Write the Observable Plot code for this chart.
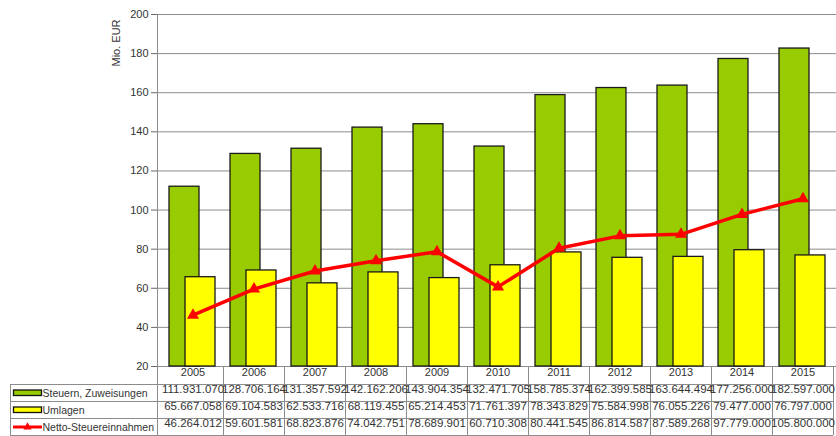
<!DOCTYPE html>
<html>
<head>
<meta charset="utf-8">
<script src="https://cdn.jsdelivr.net/npm/d3@7"></script>
<script src="https://cdn.jsdelivr.net/npm/@observablehq/plot@0.6"></script>
<style>
  html, body { margin: 0; padding: 0; background: #fff; overflow: hidden; }
  #chart { width: 836px; height: 436px; overflow: hidden; }
</style>
</head>
<body>
<div id="chart"></div>
<script>
const years = ["2005","2006","2007","2008","2009","2010","2011","2012","2013","2014","2015"];
const steuern = [111931070,128706164,131357592,142162206,143904354,132471705,158785374,162399585,163644494,177256000,182597000];
const umlagen = [65667058,69104583,62533716,68119455,65214453,71761397,78343829,75584998,76055226,79477000,76797000];
const netto = [46264012,59601581,68823876,74042751,78689901,60710308,80441545,86814587,87589268,97779000,105800000];
const seriesNames = ["Steuern, Zuweisungen", "Umlagen", "Netto-Steuereinnahmen"];
const seriesColors = ["#99cc00", "#ffff00", "#ff0000"];
const yTicks = [20, 40, 60, 80, 100, 120, 140, 160, 180, 200];
const yLabel = "Mio. EUR";

const de = d3.formatLocale({decimal: ",", thousands: ".", grouping: [3], currency: ["", " €"]});
const fmt = de.format(",d");
const mio = v => v / 1e6;

const FONT = "'Liberation Sans', Arial, sans-serif";
const gridColor = "#8c8c8c";
const textColor = "#333";

// table geometry (layout only)
const tableTop = 384, rowH = 17, tableLeft = 10;

function tableGrid(index, scales, values, dimensions) {
  const x = scales.x;
  const bw = x.bandwidth();
  const bottom = dimensions.height - dimensions.marginBottom; // 366
  const right = x(years[years.length - 1]) + bw;
  const tableBottom = tableTop + rowH * 3;
  const g = d3.create("svg:g").attr("fill", "none").attr("stroke", gridColor).attr("stroke-width", 1);
  g.append("line").attr("x1", dimensions.marginLeft + 0.5).attr("x2", dimensions.marginLeft + 0.5)
    .attr("y1", dimensions.marginTop).attr("y2", tableBottom);
  years.forEach(yr => {
    const xr = x(yr) + bw;
    g.append("line").attr("x1", Math.round(xr) + 0.5).attr("x2", Math.round(xr) + 0.5)
      .attr("y1", bottom).attr("y2", tableBottom);
  });
  for (let i = 0; i <= 3; i++) {
    const yy = tableTop + rowH * i + 0.5;
    g.append("line").attr("x1", tableLeft).attr("x2", right).attr("y1", yy).attr("y2", yy);
  }
  g.append("line").attr("x1", tableLeft + 0.5).attr("x2", tableLeft + 0.5).attr("y1", tableTop).attr("y2", tableBottom);

  const lg = d3.create("svg:g").attr("font-family", FONT).attr("font-size", 10.5).attr("fill", textColor)
    .attr("text-anchor", "start");
  seriesNames.forEach((name, i) => {
    const cy = tableTop + rowH * i + rowH / 2 + 0.5;
    if (i < 2) {
      lg.append("rect").attr("x", 13.5).attr("y", cy - 3).attr("width", 28).attr("height", 5.5)
        .attr("fill", seriesColors[i]).attr("stroke", "#111").attr("stroke-width", 1.3);
    } else {
      lg.append("line").attr("x1", 13).attr("x2", 42).attr("y1", cy).attr("y2", cy)
        .attr("stroke", seriesColors[i]).attr("stroke-width", 3);
      lg.append("path").attr("d", d3.symbol(d3.symbolTriangle, 30)()).attr("transform", `translate(27.5,${cy})`)
        .attr("fill", seriesColors[i]);
    }
    lg.append("text").attr("x", 42.5).attr("y", cy).attr("dy", "0.35em").attr("text-anchor", "start").text(name);
  });
  lg.append("text").attr("transform", "translate(120,43) rotate(-90)").attr("text-anchor", "middle")
    .attr("font-size", 11).text(yLabel);

  const root = d3.create("svg:g");
  root.append(() => g.node());
  root.append(() => lg.node());
  return root.node();
}

const rowDy = [rowH * 0 + 26.5, rowH * 1 + 26.5, rowH * 2 + 26.5];

const plot = Plot.plot({
  width: 836,
  height: 436,
  marginLeft: 157,
  marginRight: 0,
  marginTop: 14,
  marginBottom: 70,
  style: {fontFamily: FONT, fontSize: "11px", color: textColor, background: "#fff", overflow: "hidden"},
  x: {domain: years, range: [157, 838], padding: 0, axis: null},
  y: {domain: [20, 200]},
  marks: [
    Plot.gridY(yTicks, {stroke: gridColor, strokeOpacity: 1, strokeWidth: 1}),
    tableGrid,
    Plot.axisY(yTicks, {tickSize: 6, tickPadding: 3, fontSize: 11, label: null, stroke: "#666", fill: textColor}),
    Plot.barY(years, {x: d => d, y1: 20, y2: (d, i) => mio(steuern[i]), fill: seriesColors[0], stroke: "#1a1a1a", strokeWidth: 1.3, insetLeft: 7, insetRight: 24}),
    Plot.barY(years, {x: d => d, y1: 20, y2: (d, i) => mio(umlagen[i]), fill: seriesColors[1], stroke: "#1a1a1a", strokeWidth: 1.3, insetLeft: 23, insetRight: 8}),
    Plot.line(years, {x: d => d, y: (d, i) => mio(netto[i]), stroke: seriesColors[2], strokeWidth: 3.5}),
    Plot.dot(years, {x: d => d, y: (d, i) => mio(netto[i]), symbol: "triangle", r: 4.5, fill: seriesColors[2], stroke: null}),
    Plot.text(years, {x: d => d, frameAnchor: "bottom", dy: 9, text: d => d, fontSize: 11, fill: textColor}),
    Plot.text(years, {x: d => d, frameAnchor: "bottom", dy: rowDy[0], text: (d, i) => fmt(steuern[i]), fontSize: 11.5, fill: textColor}),
    Plot.text(years, {x: d => d, frameAnchor: "bottom", dy: rowDy[1], text: (d, i) => fmt(umlagen[i]), fontSize: 11.5, fill: textColor}),
    Plot.text(years, {x: d => d, frameAnchor: "bottom", dy: rowDy[2], text: (d, i) => fmt(netto[i]), fontSize: 11.5, fill: textColor})
  ]
});
document.getElementById("chart").appendChild(plot);
</script>
</body>
</html>
